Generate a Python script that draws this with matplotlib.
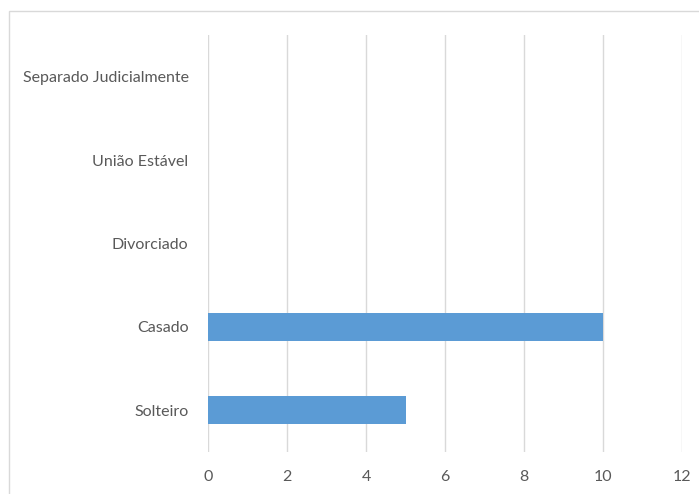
import matplotlib
matplotlib.use("Agg")
import matplotlib.pyplot as plt
from matplotlib.patches import Rectangle

categories = ["Solteiro", "Casado", "Divorciado", "União Estável", "Separado Judicialmente"]
counts = [5, 10, 0, 0, 0]
xticks = [0, 2, 4, 6, 8, 10, 12]

W, H = 699, 494
fig = plt.figure(figsize=(W / 100, H / 100), dpi=100)
ax = fig.add_axes([208 / W, 1 - 452 / H, (682 - 208) / W, (452 - 35) / H])

fam = ['Lato', 'DejaVu Sans']
txt = "#595959"

ax.barh(range(len(categories)), counts, height=0.34, color="#5B9BD5", zorder=3)
ax.set_xlim(0, 12)
ax.set_ylim(-0.5, len(categories) - 0.5)
ax.set_xticks(xticks)
ax.set_xticklabels([str(t) for t in xticks], fontsize=11.5, color=txt, family=fam)
ax.set_yticks(range(len(categories)))
ax.set_yticklabels(categories, fontsize=11.5, color=txt, family=fam)
ax.tick_params(length=0)
ax.tick_params(axis="x", pad=13)
ax.tick_params(axis="y", pad=14)
ax.grid(axis="x", color="#d9d9d9", linewidth=1, zorder=0)
for s in ax.spines.values():
    s.set_visible(False)

# light frame around the chart
fig.patches.append(Rectangle((9 / W, -0.01), (W + 5 - 9) / W, 1.01 - 11 / H,
                             transform=fig.transFigure, fill=False,
                             edgecolor="#d9d9d9", linewidth=1))

fig.savefig("out.png", dpi=100)
